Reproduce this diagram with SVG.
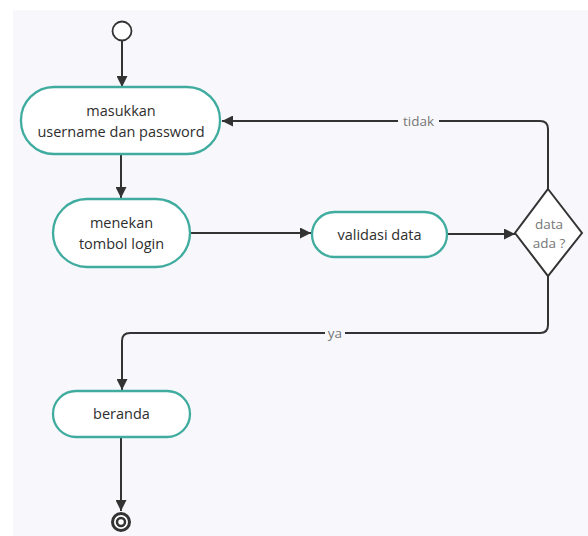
<svg xmlns="http://www.w3.org/2000/svg" width="588" height="536" viewBox="0 0 588 536">
<defs>
<marker id="arr" viewBox="0 0 10 10" refX="10" refY="5" markerWidth="5.5" markerHeight="5.5" orient="auto" markerUnits="strokeWidth">
<path d="M0,0 L10,5 L0,10 z" fill="#333"/>
</marker>
<style>
.act{fill:#fff;stroke:#40ac9f;stroke-width:2.3}
.t{font-family:"Open Sans","Noto Sans",sans-serif;font-size:14.5px;font-weight:500;fill:#2e2e2e;text-anchor:middle}
.g{font-family:"Open Sans","Noto Sans",sans-serif;font-size:13.5px;fill:#777;text-anchor:middle}
.c{fill:none;stroke:#333;stroke-width:2}
</style>
</defs>
<rect x="0" y="0" width="588" height="536" fill="#fff"/>
<rect x="13" y="10" width="575" height="526" fill="#f8f8fc"/>
<g id="connectors">
<path class="c" d="M122,41 V87" marker-end="url(#arr)"/>
<path class="c" d="M121,154 V198" marker-end="url(#arr)"/>
<path class="c" d="M190,233 H311" marker-end="url(#arr)"/>
<path class="c" d="M447,234 H515" marker-end="url(#arr)"/>
<path class="c" d="M548,189 V129 Q548,121 540,121 H222" marker-end="url(#arr)"/>
<rect x="398" y="112" width="41" height="18" fill="#f8f8fc"/>
<text class="g" x="418.5" y="126">tidak</text>
<path class="c" d="M548,276 V325 Q548,333 540,333 H130 Q122,333 122,341 V390" marker-end="url(#arr)"/>
<rect x="325" y="324" width="20" height="18" fill="#f8f8fc"/>
<text class="g" x="335" y="338">ya</text>
<path class="c" d="M121,437 V511" marker-end="url(#arr)"/>
</g>
<g id="start"><circle cx="122" cy="31" r="9.5" fill="#fff" stroke="#333" stroke-width="1.8"/></g>
<g id="masukkan">
<rect class="act" x="21" y="87" width="199" height="67" rx="33" ry="33"/>
<text class="t" x="121" y="116">masukkan</text>
<text class="t" x="121" y="137">username dan password</text>
</g>
<g id="menekan">
<rect class="act" x="53" y="199" width="137" height="68" rx="34" ry="34"/>
<text class="t" x="121.5" y="228">menekan</text>
<text class="t" x="121.5" y="249">tombol login</text>
</g>
<g id="validasi">
<rect class="act" x="312" y="212" width="135" height="45" rx="22.5" ry="22.5"/>
<text class="t" x="379.5" y="239.5">validasi data</text>
</g>
<g id="decision">
<polygon points="548,189 582,233 548,276 515,233" fill="#fff" stroke="#333" stroke-width="2"/>
<text class="g" x="549" y="229">data</text>
<text class="g" x="549" y="248">ada ?</text>
</g>
<g id="beranda">
<rect class="act" x="53" y="391" width="137" height="46" rx="23" ry="23"/>
<text class="t" x="121.5" y="419">beranda</text>
</g>
<g id="end">
<circle cx="121" cy="522" r="8.5" fill="#fff" stroke="#333" stroke-width="3"/>
<circle cx="121" cy="522" r="4" fill="#fff" stroke="#333" stroke-width="2.5"/>
</g>
</svg>
